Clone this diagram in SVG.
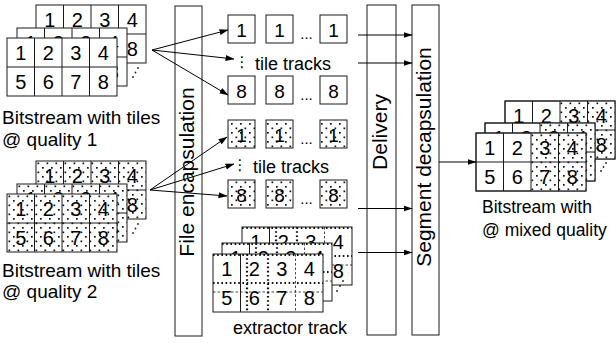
<svg xmlns="http://www.w3.org/2000/svg" width="616" height="343" viewBox="0 0 616 343">
<style>
.s{stroke:#1a1a1a;stroke-width:1;fill:none}
.w{fill:#fff;stroke:#1a1a1a;stroke-width:1}
.p{fill:url(#dots);stroke:#1a1a1a;stroke-width:1}
.pd{fill:url(#dots);stroke:none}
text{font-family:"Liberation Sans",Arial,Helvetica,sans-serif;fill:#000}
.dg{font-size:20px;text-anchor:middle}
.tb{font-size:19px;text-anchor:middle}
.el{font-size:15px;text-anchor:middle}
.vd{font-family:"DejaVu Sans",sans-serif;font-size:15px;text-anchor:middle}
.lb{font-size:18px}
.lbl{font-size:19px}
.lbr{font-size:17.5px}
.vt{font-size:21px;text-anchor:middle}
.hd{stroke:#111;stroke-width:2.2;stroke-dasharray:1.6 2.6;fill:none}
.td{stroke:#1a1a1a;stroke-width:0.8;stroke-dasharray:2.5 2;fill:none}
.ar{stroke:#000;stroke-width:1;fill:none;marker-end:url(#ah)}
.dt{fill:#222}
</style>
<defs>
<pattern id="dots" width="9" height="9" patternUnits="userSpaceOnUse">
<rect width="9" height="9" fill="#fff"/>
<rect x="1.5" y="1.5" width="1.7" height="1.7" fill="#111"/>
<rect x="6" y="6" width="1.7" height="1.7" fill="#111"/>
</pattern>
<marker id="ah" markerWidth="9" markerHeight="7" refX="8.5" refY="3.5" orient="auto" markerUnits="userSpaceOnUse">
<path d="M0,0.5 L9,3.5 L0,6.5 Z" fill="#000"/>
</marker>
<g id="gl"><path class="s" d="M27.5,0V58M55,0V58M82.5,0V58M0,29H110"/></g>
<g id="dgts">
<text class="dg" x="13.75" y="22">1</text><text class="dg" x="41.25" y="22">2</text><text class="dg" x="68.75" y="22">3</text><text class="dg" x="96.25" y="22">4</text>
<text class="dg" x="13.75" y="51">5</text><text class="dg" x="41.25" y="51">6</text><text class="dg" x="68.75" y="51">7</text><text class="dg" x="96.25" y="51">8</text>
</g>
<g id="plain"><rect class="w" x="0" y="0" width="110" height="58"/><use href="#gl"/><use href="#dgts"/></g>
<g id="dotted"><rect class="p" x="0" y="0" width="110" height="58"/><use href="#gl"/><use href="#dgts"/></g>
<g id="mixed"><rect class="w" x="0" y="0" width="110" height="58"/><rect class="pd" x="55" y="0.5" width="55" height="57"/><rect class="s" x="0" y="0" width="110" height="58"/><use href="#gl"/><use href="#dgts"/></g>
<g id="extr"><rect class="w" x="0" y="0" width="110" height="58"/>
<path class="s" d="M27.5,0V58"/>
<path class="td" d="M82.5,0V58M0,38H110"/>
<path class="hd" d="M0,1H110M0,29H110M34,0V58M55,0V58"/>
<use href="#dgts"/></g>
</defs>

<g id="bar-file"><rect class="s" x="175" y="6" width="27" height="330"/>
<text class="vt" transform="translate(194,172) rotate(-90)">File encapsulation</text></g>
<g id="bar-delivery"><rect class="s" x="367" y="5" width="29" height="330"/>
<text class="vt" font-size="20" transform="translate(386.5,132) rotate(-90)">Delivery</text></g>
<g id="bar-segment"><rect class="s" x="412" y="5" width="27" height="330"/>
<text class="vt" transform="translate(431,157) rotate(-90)">Segment decapsulation</text></g>

<g id="stack-q1">
<use href="#plain" x="36" y="5"/><use href="#plain" x="17" y="28"/><use href="#plain" x="7" y="38"/>
<circle class="dt" cx="133" cy="77" r="0.9"/><circle class="dt" cx="135.5" cy="72.5" r="0.9"/><circle class="dt" cx="138" cy="68" r="0.9"/>
<text class="lbl" x="2" y="124">Bitstream with tiles</text>
<text class="lbl" x="2" y="146">@ quality 1</text>
</g>

<g id="stack-q2">
<use href="#dotted" x="36" y="161"/><use href="#dotted" x="17" y="184"/><use href="#dotted" x="7" y="194"/>
<circle class="dt" cx="133" cy="233" r="0.9"/><circle class="dt" cx="135.5" cy="228.5" r="0.9"/><circle class="dt" cx="138" cy="224" r="0.9"/>
<text class="lbl" x="2" y="277">Bitstream with tiles</text>
<text class="lbl" x="2" y="298">@ quality 2</text>
</g>

<g id="tiles-q1">
<rect class="w" x="228" y="15" width="27" height="28"/><text class="tb" x="241.5" y="37">1</text>
<rect class="w" x="266" y="15" width="27" height="28"/><text class="tb" x="279.5" y="37">1</text>
<text class="el" x="306.5" y="39">...</text>
<rect class="w" x="320" y="15" width="27" height="28"/><text class="tb" x="333.5" y="37">1</text>
<text class="vd" x="242" y="67">⋮</text>
<text class="lb" x="255" y="70">tile tracks</text>
<rect class="w" x="228" y="76" width="27" height="28"/><text class="tb" x="241.5" y="98">8</text>
<rect class="w" x="266" y="76" width="27" height="28"/><text class="tb" x="279.5" y="98">8</text>
<text class="el" x="306.5" y="100">...</text>
<rect class="w" x="320" y="76" width="27" height="28"/><text class="tb" x="333.5" y="98">8</text>
</g>

<g id="tiles-q2">
<rect class="p" x="228" y="120" width="27" height="28"/><text class="tb" x="241.5" y="142">1</text>
<rect class="p" x="266" y="120" width="27" height="28"/><text class="tb" x="279.5" y="142">1</text>
<text class="el" x="306.5" y="144">...</text>
<rect class="p" x="320" y="120" width="27" height="28"/><text class="tb" x="333.5" y="142">1</text>
<text class="vd" x="240" y="170">⋮</text>
<text class="lb" x="253" y="173">tile tracks</text>
<rect class="p" x="228" y="180" width="27" height="28"/><text class="tb" x="241.5" y="202">8</text>
<rect class="p" x="266" y="180" width="27" height="28"/><text class="tb" x="279.5" y="202">8</text>
<text class="el" x="306.5" y="204">...</text>
<rect class="p" x="320" y="180" width="27" height="28"/><text class="tb" x="333.5" y="202">8</text>
</g>

<g id="extractor-track">
<use href="#extr" x="242" y="227"/><use href="#extr" x="222" y="243"/><use href="#extr" x="213" y="254"/>
<circle class="dt" cx="337" cy="291" r="0.9"/><circle class="dt" cx="340" cy="286" r="0.9"/><circle class="dt" cx="343" cy="281" r="0.9"/>
<text class="lb" x="233" y="334">extractor track</text>
</g>

<g id="stack-mixed">
<use href="#mixed" x="505" y="101"/><use href="#mixed" x="485" y="123"/><use href="#mixed" x="476" y="133"/>
<circle class="dt" cx="601" cy="171" r="0.9"/><circle class="dt" cx="603.5" cy="167" r="0.9"/><circle class="dt" cx="606" cy="163" r="0.9"/>
<text class="lbr" x="482" y="213">Bitstream with</text>
<text class="lbr" x="482" y="236">@ mixed quality</text>
</g>

<g id="connectors">
<path class="ar" d="M152,50L228,30"/>
<path class="ar" d="M152,50L234,59"/>
<path class="ar" d="M152,50L228,95"/>
<path class="ar" d="M150,190L227,137"/>
<path class="ar" d="M150,190L234,164"/>
<path class="ar" d="M150,190L227,196"/>
<path class="ar" d="M358,35H412"/>
<path class="ar" d="M358,63H412"/>
<path class="ar" d="M358,208.5H412"/>
<path class="ar" d="M358,252.5H412"/>
<path class="ar" d="M439,162H476"/>
</g>
</svg>
